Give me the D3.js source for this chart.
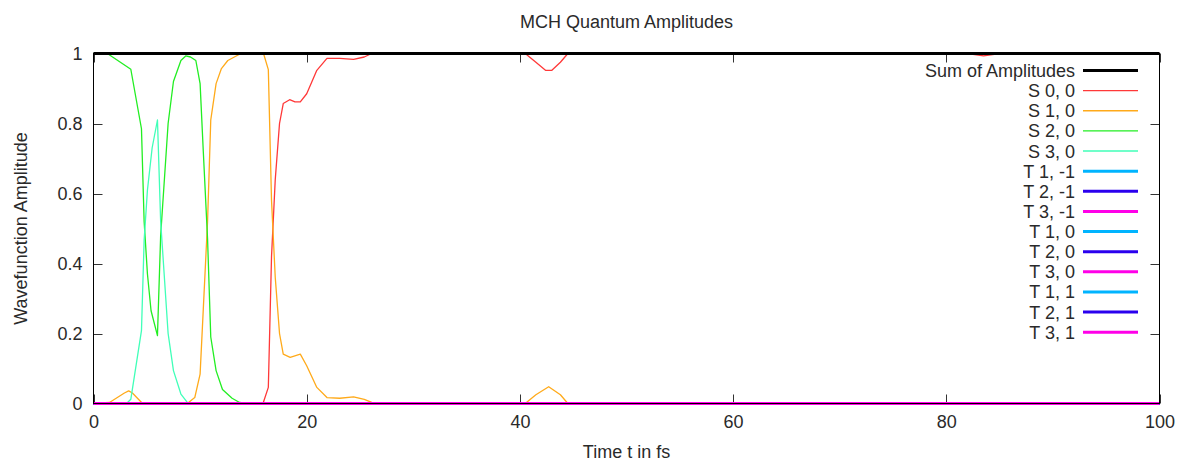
<!DOCTYPE html>
<html>
<head>
<meta charset="utf-8">
<script src="https://cdn.jsdelivr.net/npm/d3@7"></script>
<style>
  body { margin: 0; background: #fff; }
  text { font-family: "Liberation Sans", Arial, sans-serif; font-size: 18px; fill: #2a2a2a; }
</style>
</head>
<body>
<div id="chart"></div>
<script>
//*********************** DATA ***********************
var xTicks = [0, 20, 40, 60, 80, 100],
    yTicks = [0, 0.2, 0.4, 0.6, 0.8, 1],
    yTickLabels = ["0", "0.2", "0.4", "0.6", "0.8", "1"];

// [time in fs, amplitude]
var sumAmp = [[0, 1], [100, 1]];
var s00 = [[0,0],[15.9,0],[16.4,0.046],[16.7,0.42],[17.05,0.64],[17.45,0.8],[17.8,0.857],[18.4,0.868],
           [18.9,0.862],[19.4,0.862],[20,0.885],[20.95,0.952],[21.9,0.986],[23.1,0.986],[24.4,0.983],
           [25.4,0.99],[26.1,1],[40.5,1],[41.5,0.975],[42.4,0.952],[43,0.952],[43.8,0.975],[44.5,1],
           [82,1],[83.5,0.993],[85,1],[100,1]];
var s10 = [[0,0],[1.5,0.003],[2.9,0.03],[3.3,0.036],[3.65,0.03],[4.6,0],[8.8,0],[9.5,0.017],[10,0.084],
           [10.3,0.27],[10.7,0.52],[11,0.81],[11.5,0.914],[12,0.957],[12.6,0.98],[13.7,0.998],[15.95,1],
           [16.4,0.954],[16.7,0.58],[17.05,0.36],[17.45,0.2],[17.8,0.141],[18.45,0.132],[19.4,0.141],
           [20,0.108],[20.95,0.046],[21.9,0.017],[23.1,0.015],[24.4,0.019],[25.4,0.012],[26.1,0.003],
           [27,0],[40.5,0],[41.5,0.025],[42.7,0.048],[43.8,0.025],[44.5,0],[100,0]];
var s20 = [[0,1],[1.3,1],[3.5,0.955],[4.5,0.785],[4.75,0.52],[5.06,0.37],[5.4,0.265],[6,0.194],[6.3,0.48],
           [7,0.8],[7.5,0.92],[8.2,0.98],[8.65,0.993],[9.1,0.99],[9.6,0.98],[10,0.914],[10.3,0.72],
           [10.7,0.47],[11,0.19],[11.5,0.094],[12.1,0.04],[13,0.015],[13.7,0.003],[14.5,0],[100,0]];
var s30 = [[0,0],[3.1,0],[3.5,0.012],[4.5,0.208],[4.75,0.466],[5.06,0.61],[5.5,0.73],[6,0.81],[6.3,0.52],
           [7,0.2],[7.5,0.094],[8.2,0.027],[8.8,0.003],[9.2,0],[100,0]];
var tZero = [[0, 0], [100, 0]];

var seriesNames = ["Sum of Amplitudes", "S 0, 0", "S 1, 0", "S 2, 0", "S 3, 0",
                   "T 1, -1", "T 2, -1", "T 3, -1", "T 1, 0", "T 2, 0", "T 3, 0",
                   "T 1, 1", "T 2, 1", "T 3, 1"];
var seriesData = [sumAmp, s00, s10, s20, s30, tZero, tZero, tZero, tZero, tZero, tZero, tZero, tZero, tZero];
var seriesColors = ["#000000", "#ff3838", "#ffaa1a", "#22ee22", "#40ffb8",
                    "#00b4ff", "#2a00ee", "#ff00e8", "#00b4ff", "#2a00ee", "#ff00e8",
                    "#00b4ff", "#2a00ee", "#ff00e8"];
var seriesWidths = [3, 1.3, 1.3, 1.3, 1.3, 3, 3, 3, 3, 3, 3, 3, 3, 3];

//*********************** LAYOUT ***********************
var width = 1179,
    height = 461,
    plot = {left: 93.5, right: 1159.5, top: 53.5, bottom: 403.5},
    tickLen = 9;

var xScale = d3.scaleLinear().domain([0, 100]).range([plot.left, plot.right]),
    yScale = d3.scaleLinear().domain([0, 1]).range([plot.bottom, plot.top]);

var svg = d3.select("#chart").append("svg")
    .attr("width", width)
    .attr("height", height);

var line = d3.line()
    .x(function(d) { return xScale(d[0]); })
    .y(function(d) { return yScale(d[1]); });

//*********************** TITLE & LABELS ***********************
svg.append("text")
    .attr("x", (plot.left + plot.right) / 2)
    .attr("y", 28)
    .attr("text-anchor", "middle")
    .text("MCH Quantum Amplitudes");

svg.append("text")
    .attr("transform", "translate(27," + ((plot.top + plot.bottom) / 2) + ") rotate(-90)")
    .attr("text-anchor", "middle")
    .text("Wavefunction Amplitude");

svg.append("text")
    .attr("x", (plot.left + plot.right) / 2)
    .attr("y", 458)
    .attr("text-anchor", "middle")
    .text("Time t in fs");

//*********************** AXES ***********************
var xAxis = d3.axisBottom(xScale).tickValues(xTicks).tickSize(0).tickPadding(0);
var gx = svg.append("g")
    .attr("transform", "translate(0," + plot.bottom + ")")
    .call(xAxis);
gx.select(".domain").remove();
gx.selectAll("text").attr("y", 24.5).attr("dy", 0).attr("fill", "#2a2a2a").style("font-size", "18px");

var yAxis = d3.axisLeft(yScale).tickValues(yTicks).tickSize(0).tickPadding(0)
    .tickFormat(function(d, i) { return yTickLabels[i]; });
var gy = svg.append("g")
    .attr("transform", "translate(" + (plot.left - 11) + ",0)")
    .call(yAxis);
gy.select(".domain").remove();
gy.selectAll("text").attr("dy", 0).attr("y", 5.5).attr("fill", "#2a2a2a").style("font-size", "18px");

//tick marks pointing inwards, mirrored
var ticks = svg.append("g").attr("stroke", "#333").attr("stroke-width", 1);
xTicks.forEach(function(t) {
  var x = Math.round(xScale(t)) + 0.5;
  ticks.append("line").attr("x1", x).attr("x2", x).attr("y1", plot.bottom).attr("y2", plot.bottom - tickLen);
  ticks.append("line").attr("x1", x).attr("x2", x).attr("y1", plot.top).attr("y2", plot.top + tickLen);
});
yTicks.forEach(function(t) {
  var y = Math.round(yScale(t)) + 0.5;
  ticks.append("line").attr("x1", plot.left).attr("x2", plot.left + tickLen).attr("y1", y).attr("y2", y);
  ticks.append("line").attr("x1", plot.right).attr("x2", plot.right - tickLen).attr("y1", y).attr("y2", y);
});

//*********************** LINES ***********************
// singlets first, then the sum, then the triplets on top
var drawOrder = [1, 2, 3, 4, 0, 5, 6, 7, 8, 9, 10, 11, 12, 13];
var lines = svg.append("g").attr("fill", "none");
drawOrder.forEach(function(i) {
  lines.append("path").datum(seriesData[i])
      .attr("d", line)
      .attr("stroke", seriesColors[i])
      .attr("stroke-width", seriesWidths[i])
      .attr("stroke-linejoin", "round");
});

//border drawn over the curves
svg.append("rect")
    .attr("x", plot.left)
    .attr("y", plot.top)
    .attr("width", plot.right - plot.left)
    .attr("height", plot.bottom - plot.top)
    .attr("fill", "none")
    .attr("stroke", "#000")
    .attr("stroke-width", 1);

//*********************** LEGEND ***********************
var legend = svg.append("g").attr("class", "legend");
seriesNames.forEach(function(name, i) {
  var y = 70.5 + i * 20.13;
  legend.append("text")
      .attr("x", 1075)
      .attr("y", y + 6.5)
      .attr("text-anchor", "end")
      .text(name);
  legend.append("line")
      .attr("x1", 1083).attr("x2", 1138)
      .attr("y1", y).attr("y2", y)
      .attr("stroke", seriesColors[i])
      .attr("stroke-width", seriesWidths[i]);
});
</script>
</body>
</html>
